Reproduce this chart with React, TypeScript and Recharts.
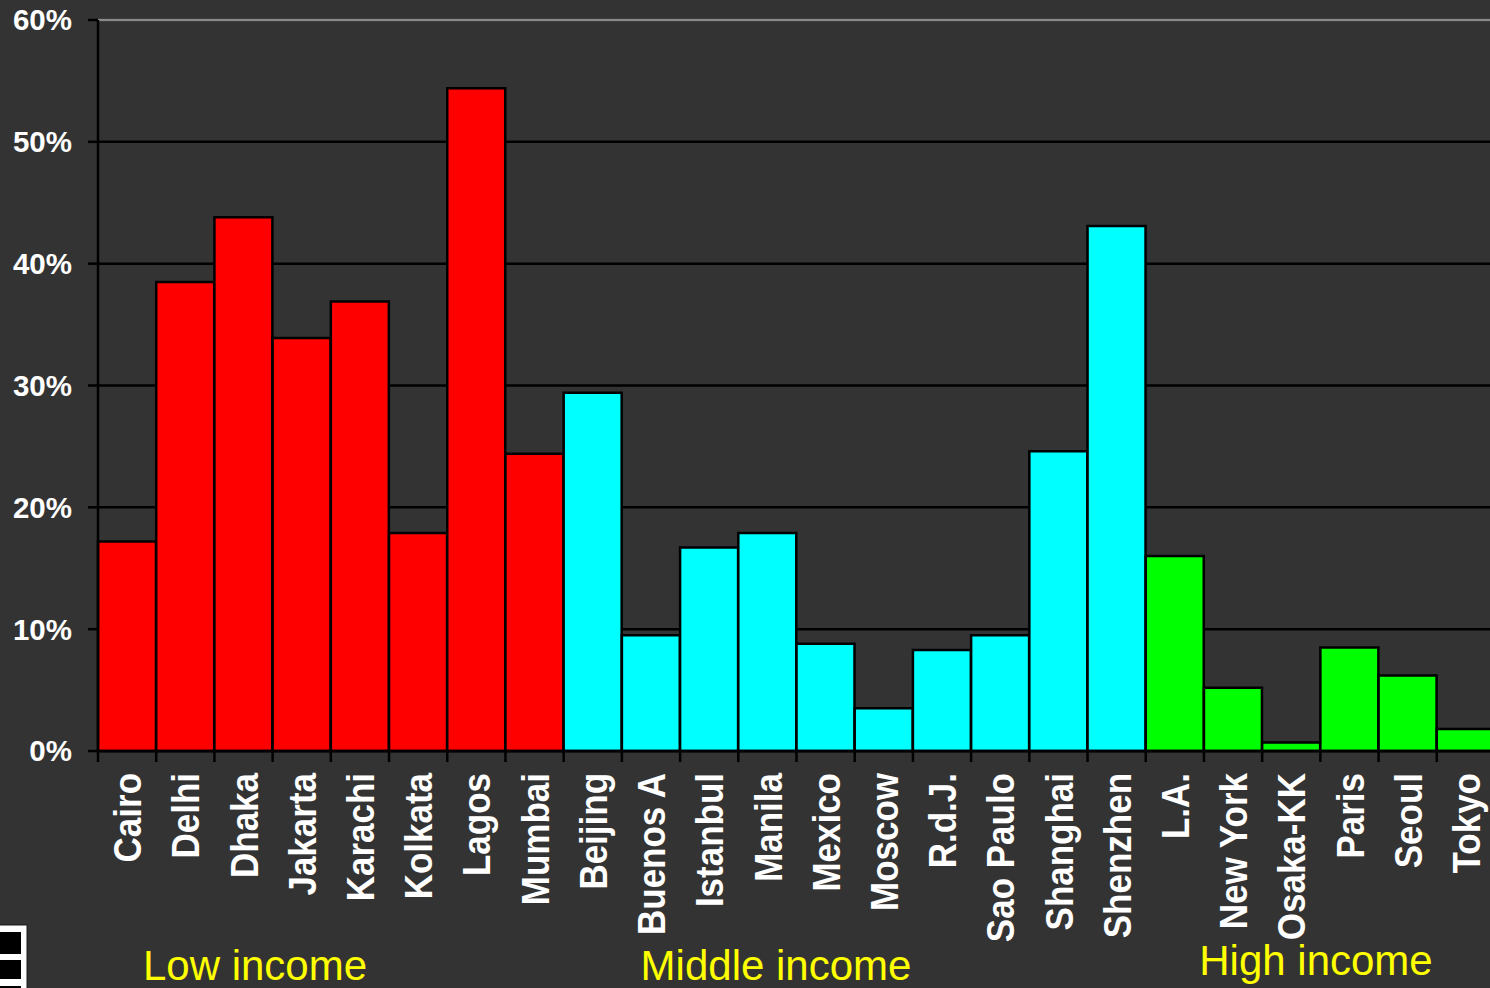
import React from 'react';
import { BarChart, Bar, XAxis, YAxis, CartesianGrid, ReferenceLine, Cell } from 'recharts';

// Share of population by city, grouped by income level (percent)
const lowIncomeCities = ['Cairo', 'Delhi', 'Dhaka', 'Jakarta', 'Karachi', 'Kolkata', 'Lagos', 'Mumbai'];
const lowIncomeValues = [17.2, 38.5, 43.8, 33.9, 36.9, 17.9, 54.4, 24.4];

const middleIncomeCities = ['Beijing', 'Buenos A', 'Istanbul', 'Manila', 'Mexico', 'Moscow', 'R.d.J.', 'Sao Paulo', 'Shanghai', 'Shenzhen'];
const middleIncomeValues = [29.4, 9.5, 16.7, 17.9, 8.8, 3.5, 8.3, 9.5, 24.6, 43.1];

const highIncomeCities = ['L.A.', 'New York', 'Osaka-KK', 'Paris', 'Seoul', 'Tokyo'];
const highIncomeValues = [16.0, 5.2, 0.7, 8.5, 6.2, 1.8];

const yTicks = [0, 10, 20, 30, 40, 50, 60];

const groupLabels = ['Low income', 'Middle income', 'High income'];
const groupColors = ['#ff0000', '#00ffff', '#00ff00'];

type Row = { city: string; value: number; group: number };

const data: Row[] = [
  ...lowIncomeCities.map((city, i) => ({ city, value: lowIncomeValues[i], group: 0 })),
  ...middleIncomeCities.map((city, i) => ({ city, value: middleIncomeValues[i], group: 1 })),
  ...highIncomeCities.map((city, i) => ({ city, value: highIncomeValues[i], group: 2 })),
];

const FONT = '"Liberation Sans", Arial, sans-serif';
const BG = '#333333';

const CHART_W = 1500;
const CHART_H = 988;
const MARGIN = { top: 20, right: 5, left: 0, bottom: 0 };
const X_AXIS_H = 237;
const Y_AXIS_W = 98;
const PLOT_W = CHART_W - MARGIN.left - MARGIN.right - Y_AXIS_W;
const HALF_BAND = PLOT_W / data.length / 2;

const CityTick = (props: any) => {
  const { x, y, payload } = props;
  return (
    <g>
      <line x1={x - HALF_BAND} x2={x - HALF_BAND} y1={y} y2={y + 11} stroke="#000" strokeWidth={2.5} />
      <text
        transform={`translate(${x},${y + 22}) rotate(-90) scale(1,1.12)`}
        textAnchor="end"
        dy="0.36em"
        fill="#ffffff"
        fontFamily={FONT}
        fontWeight="bold"
        fontSize={35}
      >
        {payload.value}
      </text>
    </g>
  );
};

export default function App() {
  return (
    <div
      style={{
        position: 'absolute',
        left: 0,
        top: 0,
        width: 1490,
        height: 988,
        overflow: 'hidden',
        background: BG,
        fontFamily: FONT,
      }}
    >
      <BarChart width={CHART_W} height={CHART_H} data={data} margin={MARGIN} barCategoryGap={0}>
        <CartesianGrid vertical={false} stroke="#000" strokeWidth={2.5} />
        <ReferenceLine y={60} stroke="#8a8a8a" strokeWidth={2.5} />
        <XAxis
          dataKey="city"
          interval={0}
          tickLine={false}
          tickSize={0}
          tickMargin={0}
          axisLine={{ stroke: '#000', strokeWidth: 2.5 }}
          tick={<CityTick />}
          height={X_AXIS_H}
        />
        <YAxis
          width={Y_AXIS_W}
          domain={[0, 60]}
          ticks={yTicks}
          interval={0}
          tickFormatter={(v: number) => `${v}%`}
          tickSize={10}
          tickMargin={16}
          axisLine={{ stroke: '#000', strokeWidth: 2.5 }}
          tickLine={{ stroke: '#000', strokeWidth: 2.5 }}
          tick={{ fill: '#ffffff', fontSize: 29.5, fontWeight: 'bold', fontFamily: FONT }}
        />
        <Bar dataKey="value" isAnimationActive={false} stroke="#000" strokeWidth={2.5}>
          {data.map((d, i) => (
            <Cell key={i} fill={groupColors[d.group]} />
          ))}
        </Bar>
      </BarChart>

      <svg
        width={1490}
        height={988}
        style={{ position: 'absolute', left: 0, top: 0, pointerEvents: 'none' }}
      >
        {/* small table glyph in the lower-left corner */}
        <rect x={-6} y={925} width={33} height={70} fill="#ffffff" stroke="#1a1a1a" strokeWidth={1} />
        <rect x={-6} y={932} width={27} height={22} fill="#000" />
        <rect x={-6} y={960} width={27} height={19} fill="#000" />
        <rect x={-6} y={986} width={27} height={10} fill="#000" />

        <text x={255} y={980} textAnchor="middle" fill="#ffff00" fontFamily={FONT} fontSize={42}>
          {groupLabels[0]}
        </text>
        <text x={776} y={980} textAnchor="middle" fill="#ffff00" fontFamily={FONT} fontSize={42}>
          {groupLabels[1]}
        </text>
        <text x={1316} y={975} textAnchor="middle" fill="#ffff00" fontFamily={FONT} fontSize={42}>
          {groupLabels[2]}
        </text>
      </svg>
    </div>
  );
}
